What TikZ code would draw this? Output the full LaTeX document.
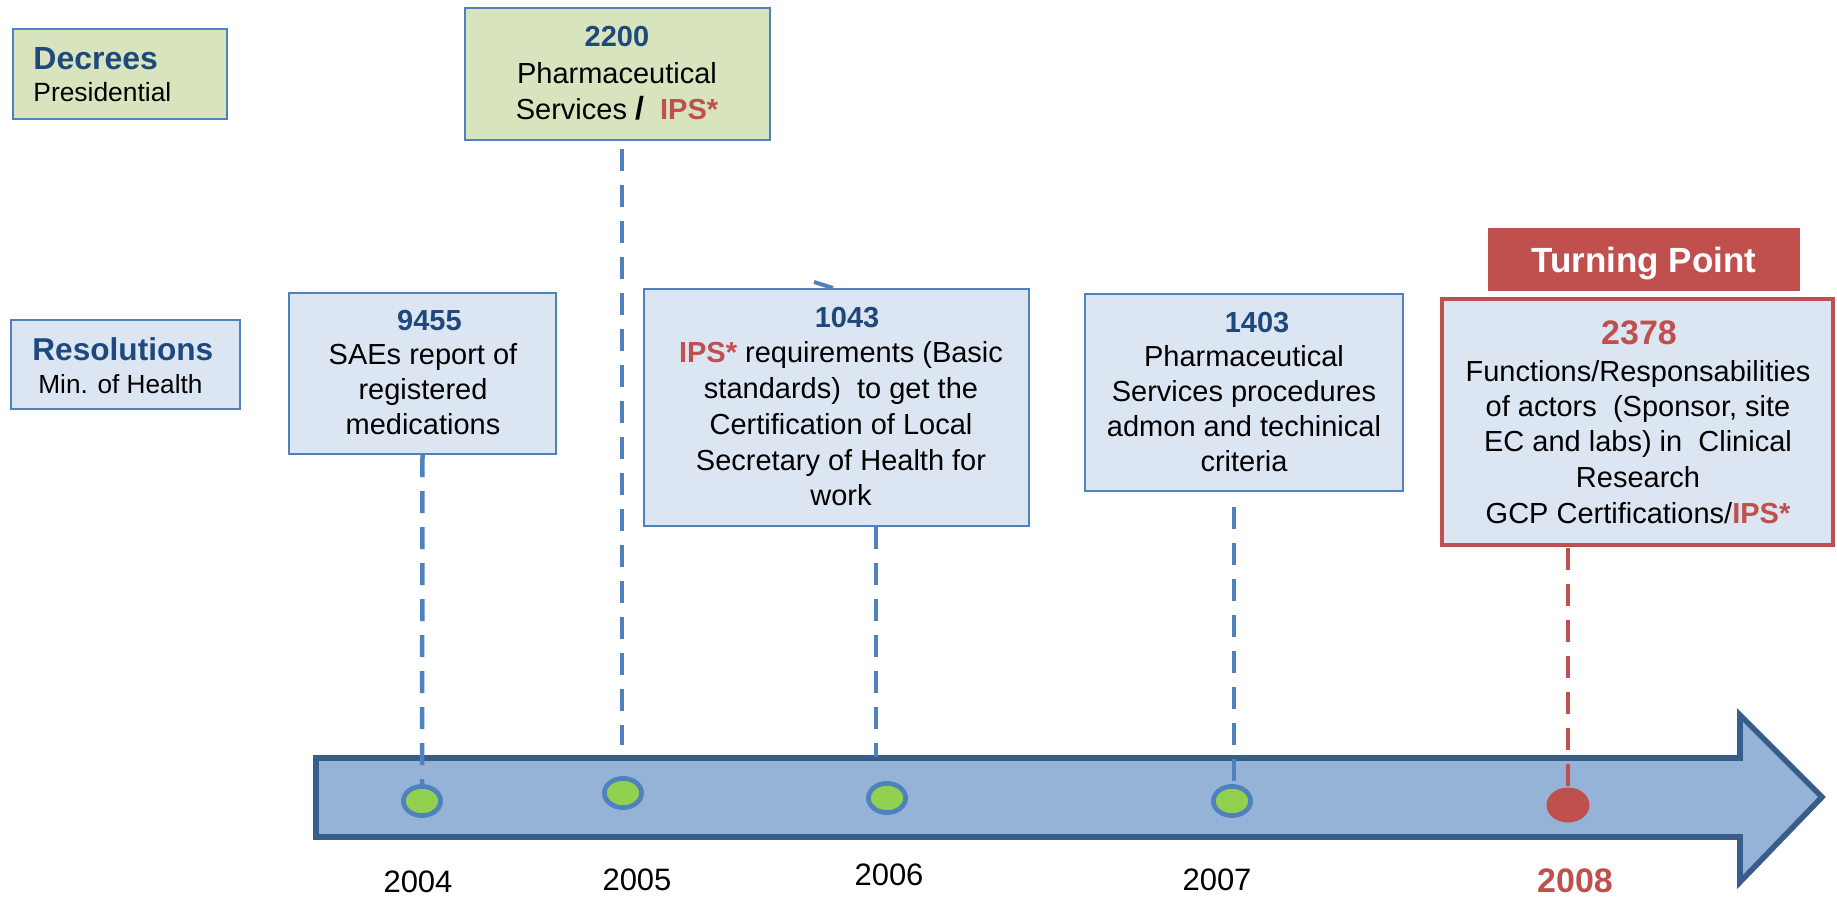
\documentclass[tikz,border=0pt]{standalone}
\usepackage{fontspec}
\setmainfont{Liberation Sans}
\usetikzlibrary{shapes.geometric}
\definecolor{boxline}{HTML}{4F81BD}
\definecolor{greenfill}{HTML}{D7E4BD}
\definecolor{bluefill}{HTML}{DCE6F2}
\definecolor{titleblue}{HTML}{1F497D}
\definecolor{redc}{HTML}{C0504D}
\definecolor{arrowfill}{HTML}{95B3D7}
\definecolor{arrowline}{HTML}{385D8A}
\definecolor{dotgreen}{HTML}{92D050}
\tikzset{
  box/.style={rectangle, draw=boxline, line width=1.2pt, inner sep=0pt},
  greenbox/.style={box, fill=greenfill},
  bluebox/.style={box, fill=bluefill},
  redbox/.style={rectangle, draw=redc, line width=2.3pt, fill=bluefill, inner sep=0pt},
  tpbox/.style={rectangle, fill=redc, inner sep=0pt},
  txt/.style={anchor=base, inner sep=0pt, font=\fontsize{14.5}{17}\selectfont},
  ltxt/.style={anchor=base west, inner sep=0pt},
  num/.style={anchor=base, inner sep=0pt, text=titleblue, font=\fontsize{14.5}{17}\selectfont\bfseries},
  yr/.style={anchor=base, inner sep=0pt, font=\fontsize{15.5}{18}\selectfont},
  conn/.style={draw=boxline, line width=2.25pt, dash pattern=on 11pt off 7pt},
  redconn/.style={conn, draw=redc},
  gdot/.style={ellipse, draw=boxline, line width=2.35pt, fill=dotgreen, minimum width=18.6pt, minimum height=14.6pt, inner sep=0pt},
  rdot/.style={ellipse, fill=redc, minimum width=21.5pt, minimum height=17.5pt, inner sep=0pt},
}
\newcommand{\ips}{{\bfseries\color{redc}IPS*}}
\begin{document}
\begin{tikzpicture}[x=0.5pt, y=-0.5pt]
\useasboundingbox (0,0) rectangle (1837,897);

% timeline arrow
\draw[fill=arrowfill, draw=arrowline, line width=2.8pt]
  (316,758) -- (1740,758) -- (1740,715) -- (1822,797) -- (1740,882) -- (1740,837) -- (316,837) -- cycle;

% left labels
\node[greenbox, minimum width=107pt, minimum height=45pt] (dec) at (120,74) {};
\node[ltxt, text=titleblue, font=\fontsize{16}{19}\selectfont\bfseries] (decA) at (33,70) {Decrees};
\node[ltxt, font=\fontsize{13.2}{16}\selectfont] (decB) at (33,102) {Presidential};

\node[bluebox, minimum width=114.5pt, minimum height=44.5pt] (res) at (125.5,364.5) {};
\node[ltxt, text=titleblue, font=\fontsize{15.8}{19}\selectfont\bfseries] (resA) at (32,361) {Resolutions};
\node[ltxt, font=\fontsize{13.1}{16}\selectfont] (resB) at (38,394) {Min. of Health};

% 2200
\node[greenbox, minimum width=152.5pt, minimum height=66pt] (b2200) at (617.5,74) {};
\node[num] (t2200) at (617,47) {2200};
\node[txt] (t2200a) at (617,84) {Pharmaceutical};
\node[txt] (t2200b) at (617,120) {Services {\fontsize{16}{17}\selectfont\bfseries /}~ \ips};

% 9455
\node[bluebox, minimum width=133.5pt, minimum height=80.5pt] (b9455) at (422.5,373.5) {};
\node[num] (t9455) at (429.5,331) {9455};
\node[txt] (t9455a) at (423,365) {SAEs report of};
\node[txt] (t9455b) at (423,400) {registered};
\node[txt] (t9455c) at (423,435) {medications};

% 1043
\node[bluebox, minimum width=192.5pt, minimum height=118.5pt] (b1043) at (836.5,407.5) {};
\draw[draw=boxline, line width=2pt] (814,282) -- (833,288);
\node[num] (t1043) at (847,328) {1043};
\node[txt] (t1043a) at (841,363) {\ips\ requirements (Basic};
\node[txt] (t1043b) at (841,399) {standards)~ to get the};
\node[txt] (t1043c) at (841,435) {Certification of Local};
\node[txt] (t1043d) at (841,471) {Secretary of Health for};
\node[txt] (t1043e) at (841,506) {work};

% 1403
\node[bluebox, minimum width=159pt, minimum height=98.5pt] (b1403) at (1244,392.5) {};
\node[num] (t1403) at (1257,333) {1403};
\node[txt] (t1403a) at (1244,367) {Pharmaceutical};
\node[txt] (t1403b) at (1244,402) {Services procedures};
\node[txt] (t1403c) at (1244,437) {admon and techinical};
\node[txt] (t1403d) at (1244,472) {criteria};

% Turning point and 2378
\node[tpbox, minimum width=156pt, minimum height=31.5pt] (tp) at (1644,259.5) {};
\node[anchor=base, inner sep=0pt, text=white, font=\fontsize{17.5}{20}\selectfont\bfseries] (tpt) at (1644,273) {Turning Point};

\node[redbox, minimum width=195.5pt, minimum height=123pt] (b2378) at (1637.5,422) {};
\node[num, text=redc, font=\fontsize{17}{20}\selectfont\bfseries] (t2378) at (1639,345) {2378};
\node[txt] (t2378a) at (1638,382) {Functions/Responsabilities};
\node[txt] (t2378b) at (1638,417) {of actors~ (Sponsor, site};
\node[txt] (t2378c) at (1638,452) {EC and labs) in~ Clinical};
\node[txt] (t2378d) at (1638,488) {Research};
\node[txt] (t2378e) at (1638,524) {GCP Certifications/\ips};

% dots
\node[gdot] (d2004) at (422,801) {};
\node[gdot] (d2005) at (623,793) {};
\node[gdot] (d2006) at (887,798) {};
\node[gdot] (d2007) at (1232,801) {};
\node[rdot] (d2008) at (1568,805) {};

% connectors
\coordinate (c2005a) at (622,149);
\coordinate (c2005b) at (622,745);
\coordinate (c2006a) at (876,527);
\coordinate (c2006b) at (876,757);
\coordinate (c2007a) at (1234,507);
\coordinate (c2008a) at (1568,548);
\draw[conn] (b9455.south) -- (d2004.north);
\draw[conn] (c2005a) -- (c2005b);
\draw[conn] (c2006a) -- (c2006b);
\draw[conn] (c2007a) -- (c2007a |- d2007.north);
\draw[redconn] (c2008a) -- (d2008.north);

% years
\node[yr] (y2004) at (418,892) {2004};
\node[yr] (y2005) at (637,890) {2005};
\node[yr] (y2006) at (889,885) {2006};
\node[yr] (y2007) at (1217,890) {2007};
\node[yr, text=redc, font=\fontsize{17}{20}\selectfont\bfseries] (y2008) at (1575,892) {2008};
\end{tikzpicture}
\end{document}
